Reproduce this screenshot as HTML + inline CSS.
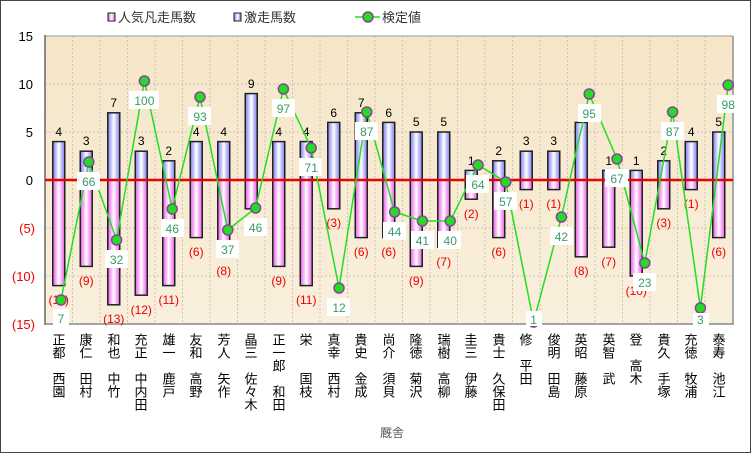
<!DOCTYPE html>
<html><head><meta charset="utf-8"><style>
html,body{margin:0;padding:0;background:#fff}
svg{display:block;font-family:"Liberation Sans","Noto Sans CJK JP",sans-serif}
.ax{font-size:13px;text-anchor:end}
.pl{font-size:12px;text-anchor:middle;fill:#000}
.nl{font-size:12px;text-anchor:middle;fill:#e00}
.vl{font-size:12px;text-anchor:middle;fill:#3a9a6a}
.nm{font-size:13px;writing-mode:vertical-rl;fill:#000;font-family:"Noto Sans CJK JP",sans-serif}
</style></head><body>
<svg width="751" height="453" viewBox="0 0 751 453">
<defs>
<linearGradient id="bg" x1="0" y1="0" x2="0" y2="1"><stop offset="0" stop-color="#f6e6c8"/><stop offset="1" stop-color="#f8efdc"/></linearGradient>
<linearGradient id="pb" x1="0" y1="0" x2="1" y2="0"><stop offset="0" stop-color="#7a7af0"/><stop offset="0.5" stop-color="#ffffff"/><stop offset="1" stop-color="#7a7af0"/></linearGradient>
<linearGradient id="nb" x1="0" y1="0" x2="1" y2="0"><stop offset="0" stop-color="#e858e8"/><stop offset="0.5" stop-color="#ffffff"/><stop offset="1" stop-color="#e858e8"/></linearGradient>
</defs>
<rect x="0.5" y="0.5" width="750" height="452" fill="#fff" stroke="#444"/>
<!-- plot -->
<rect x="45" y="36" width="688" height="288" fill="url(#bg)"/>
<g stroke="#cfc4b0" stroke-width="1" stroke-dasharray="2,2">
<line x1="45" y1="84" x2="733" y2="84"/><line x1="45" y1="132" x2="733" y2="132"/><line x1="45" y1="228" x2="733" y2="228"/><line x1="45" y1="276" x2="733" y2="276"/>
<line x1="72.5" y1="36" x2="72.5" y2="324"/><line x1="100" y1="36" x2="100" y2="324"/><line x1="127.5" y1="36" x2="127.5" y2="324"/><line x1="155" y1="36" x2="155" y2="324"/><line x1="182.5" y1="36" x2="182.5" y2="324"/><line x1="210" y1="36" x2="210" y2="324"/><line x1="237.5" y1="36" x2="237.5" y2="324"/><line x1="265" y1="36" x2="265" y2="324"/><line x1="292.5" y1="36" x2="292.5" y2="324"/><line x1="320" y1="36" x2="320" y2="324"/><line x1="347.5" y1="36" x2="347.5" y2="324"/><line x1="375" y1="36" x2="375" y2="324"/><line x1="402.5" y1="36" x2="402.5" y2="324"/><line x1="430" y1="36" x2="430" y2="324"/><line x1="457.5" y1="36" x2="457.5" y2="324"/><line x1="485" y1="36" x2="485" y2="324"/><line x1="512.5" y1="36" x2="512.5" y2="324"/><line x1="540" y1="36" x2="540" y2="324"/><line x1="567.5" y1="36" x2="567.5" y2="324"/><line x1="595" y1="36" x2="595" y2="324"/><line x1="622.5" y1="36" x2="622.5" y2="324"/><line x1="650" y1="36" x2="650" y2="324"/><line x1="677.5" y1="36" x2="677.5" y2="324"/><line x1="705" y1="36" x2="705" y2="324"/>
</g>
<line x1="45" y1="36" x2="733" y2="36" stroke="#999"/>
<line x1="733" y1="36" x2="733" y2="324" stroke="#aaa" stroke-width="2"/>
<line x1="45" y1="35" x2="45" y2="325" stroke="#666" stroke-width="1.5"/>
<line x1="45" y1="324" x2="734" y2="324" stroke="#888" stroke-width="1.5"/>
<!-- y axis -->
<text class="ax" x="33" y="41">15</text><text class="ax" x="33" y="89">10</text><text class="ax" x="33" y="137">5</text><text class="ax" x="33" y="185">0</text>
<text class="ax" x="35" y="233" fill="#e00">(5)</text><text class="ax" x="35" y="281" fill="#e00">(10)</text><text class="ax" x="35" y="329" fill="#e00">(15)</text>
<!-- positive bars -->
<g fill="url(#pb)" stroke="#222" stroke-width="1.5">
<rect x="52.75" y="141.6" width="12" height="38.4"/><rect x="80.25" y="151.2" width="12" height="28.8"/><rect x="107.75" y="112.8" width="12" height="67.2"/><rect x="135.25" y="151.2" width="12" height="28.8"/><rect x="162.75" y="160.8" width="12" height="19.2"/><rect x="190.25" y="141.6" width="12" height="38.4"/><rect x="217.75" y="141.6" width="12" height="38.4"/><rect x="245.25" y="93.6" width="12" height="86.4"/><rect x="272.75" y="141.6" width="12" height="38.4"/><rect x="300.25" y="141.6" width="12" height="38.4"/><rect x="327.75" y="122.4" width="12" height="57.6"/><rect x="355.25" y="112.8" width="12" height="67.2"/><rect x="382.75" y="122.4" width="12" height="57.6"/><rect x="410.25" y="132" width="12" height="48"/><rect x="437.75" y="132" width="12" height="48"/><rect x="465.25" y="170.4" width="12" height="9.6"/><rect x="492.75" y="160.8" width="12" height="19.2"/><rect x="520.25" y="151.2" width="12" height="28.8"/><rect x="547.75" y="151.2" width="12" height="28.8"/><rect x="575.25" y="122.4" width="12" height="57.6"/><rect x="602.75" y="170.4" width="12" height="9.6"/><rect x="630.25" y="170.4" width="12" height="9.6"/><rect x="657.75" y="160.8" width="12" height="19.2"/><rect x="685.25" y="141.6" width="12" height="38.4"/><rect x="712.75" y="132" width="12" height="48"/>
</g>
<!-- negative bars -->
<g fill="url(#nb)" stroke="#222" stroke-width="1.5">
<rect x="52.75" y="180" width="12" height="105.6"/><rect x="80.25" y="180" width="12" height="86.4"/><rect x="107.75" y="180" width="12" height="124.8"/><rect x="135.25" y="180" width="12" height="115.2"/><rect x="162.75" y="180" width="12" height="105.6"/><rect x="190.25" y="180" width="12" height="57.6"/><rect x="217.75" y="180" width="12" height="76.8"/><rect x="245.25" y="180" width="12" height="28.8"/><rect x="272.75" y="180" width="12" height="86.4"/><rect x="300.25" y="180" width="12" height="105.6"/><rect x="327.75" y="180" width="12" height="28.8"/><rect x="355.25" y="180" width="12" height="57.6"/><rect x="382.75" y="180" width="12" height="57.6"/><rect x="410.25" y="180" width="12" height="86.4"/><rect x="437.75" y="180" width="12" height="67.2"/><rect x="465.25" y="180" width="12" height="19.2"/><rect x="492.75" y="180" width="12" height="57.6"/><rect x="520.25" y="180" width="12" height="9.6"/><rect x="547.75" y="180" width="12" height="9.6"/><rect x="575.25" y="180" width="12" height="76.8"/><rect x="602.75" y="180" width="12" height="67.2"/><rect x="630.25" y="180" width="12" height="96"/><rect x="657.75" y="180" width="12" height="28.8"/><rect x="685.25" y="180" width="12" height="9.6"/><rect x="712.75" y="180" width="12" height="57.6"/>
</g>
<line x1="45" y1="180" x2="733" y2="180" stroke="#ee0000" stroke-width="2.5"/>
<!-- positive labels -->
<g class="pl">
<text x="58.75" y="136">4</text><text x="86.25" y="145">3</text><text x="113.75" y="107">7</text><text x="141.25" y="145">3</text><text x="168.75" y="155">2</text><text x="196.25" y="136">4</text><text x="223.75" y="136">4</text><text x="251.25" y="88">9</text><text x="278.75" y="136">4</text><text x="306.25" y="136">4</text><text x="333.75" y="117">6</text><text x="361.25" y="107">7</text><text x="388.75" y="117">6</text><text x="416.25" y="126">5</text><text x="443.75" y="126">5</text><text x="471.25" y="165">1</text><text x="498.75" y="155">2</text><text x="526.25" y="145">3</text><text x="553.75" y="145">3</text><text x="581.25" y="117">6</text><text x="608.75" y="165">1</text><text x="636.25" y="165">1</text><text x="663.75" y="155">2</text><text x="691.25" y="136">4</text><text x="718.75" y="126">5</text>
</g>
<!-- negative labels -->
<g class="nl">
<text x="58.75" y="304">(11)</text><text x="86.25" y="285">(9)</text><text x="113.75" y="323">(13)</text><text x="141.25" y="314">(12)</text><text x="168.75" y="304">(11)</text><text x="196.25" y="256">(6)</text><text x="223.75" y="275">(8)</text><text x="251.25" y="227">(3)</text><text x="278.75" y="285">(9)</text><text x="306.25" y="304">(11)</text><text x="333.75" y="227">(3)</text><text x="361.25" y="256">(6)</text><text x="388.75" y="256">(6)</text><text x="416.25" y="285">(9)</text><text x="443.75" y="266">(7)</text><text x="471.25" y="218">(2)</text><text x="498.75" y="256">(6)</text><text x="526.25" y="208">(1)</text><text x="553.75" y="208">(1)</text><text x="581.25" y="275">(8)</text><text x="608.75" y="266">(7)</text><text x="636.25" y="295">(10)</text><text x="663.75" y="227">(3)</text><text x="691.25" y="208">(1)</text><text x="718.75" y="256">(6)</text>
</g>
<!-- line -->
<polyline fill="none" stroke="#22dd22" stroke-width="1.5" points="61,300 88.8,162 116.6,240 144.4,81 172.2,209 200,97 227.8,230 255.6,208 283.4,89 311.2,148 339,288 366.8,112 394.6,212 422.4,221 450.2,221 478,165 505.8,182 533.6,322 561.4,217 589.2,94 617,159 644.8,263 672.6,112 700.4,308 728.2,85"/>
<g fill="#22dd22" stroke="#884499" stroke-width="1.5">
<circle cx="61" cy="300" r="5"/><circle cx="88.8" cy="162" r="5"/><circle cx="116.6" cy="240" r="5"/><circle cx="144.4" cy="81" r="5"/><circle cx="172.2" cy="209" r="5"/><circle cx="200" cy="97" r="5"/><circle cx="227.8" cy="230" r="5"/><circle cx="255.6" cy="208" r="5"/><circle cx="283.4" cy="89" r="5"/><circle cx="311.2" cy="148" r="5"/><circle cx="339" cy="288" r="5"/><circle cx="366.8" cy="112" r="5"/><circle cx="394.6" cy="212" r="5"/><circle cx="422.4" cy="221" r="5"/><circle cx="450.2" cy="221" r="5"/><circle cx="478" cy="165" r="5"/><circle cx="505.8" cy="182" r="5"/><circle cx="533.6" cy="322" r="5"/><circle cx="561.4" cy="217" r="5"/><circle cx="589.2" cy="94" r="5"/><circle cx="617" cy="159" r="5"/><circle cx="644.8" cy="263" r="5"/><circle cx="672.6" cy="112" r="5"/><circle cx="700.4" cy="308" r="5"/><circle cx="728.2" cy="85" r="5"/>
</g>
<!-- value label boxes -->
<g fill="#fff">
<rect x="53" y="309" width="16" height="16"/><rect x="77" y="172" width="23" height="18"/><rect x="105" y="250" width="23" height="18"/><rect x="129" y="91" width="30" height="18"/><rect x="161" y="219" width="23" height="18"/><rect x="188" y="107" width="23" height="18"/><rect x="216" y="240" width="23" height="18"/><rect x="244" y="218" width="23" height="18"/><rect x="272" y="99" width="23" height="18"/><rect x="299" y="158" width="23" height="18"/><rect x="327" y="298" width="23" height="18"/><rect x="355" y="122" width="23" height="18"/><rect x="383" y="222" width="23" height="18"/><rect x="411" y="231" width="23" height="18"/><rect x="438" y="231" width="23" height="18"/><rect x="466" y="175" width="23" height="18"/><rect x="494" y="192" width="23" height="18"/><rect x="526" y="311" width="16" height="15"/><rect x="550" y="227" width="23" height="18"/><rect x="578" y="104" width="23" height="18"/><rect x="605" y="169" width="23" height="18"/><rect x="633" y="273" width="23" height="18"/><rect x="661" y="122" width="23" height="18"/><rect x="693" y="313" width="16" height="13"/><rect x="717" y="95" width="23" height="18"/>
</g>
<g class="vl">
<text x="61" y="323">7</text><text x="88.8" y="186">66</text><text x="116.6" y="264">32</text><text x="144.4" y="105">100</text><text x="172.2" y="233">46</text><text x="200" y="121">93</text><text x="227.8" y="254">37</text><text x="255.6" y="232">46</text><text x="283.4" y="113">97</text><text x="311.2" y="172">71</text><text x="339" y="312">12</text><text x="366.8" y="136">87</text><text x="394.6" y="236">44</text><text x="422.4" y="245">41</text><text x="450.2" y="245">40</text><text x="478" y="189">64</text><text x="505.8" y="206">57</text><text x="533.6" y="324">1</text><text x="561.4" y="241">42</text><text x="589.2" y="118">95</text><text x="617" y="183">67</text><text x="644.8" y="287">23</text><text x="672.6" y="136">87</text><text x="700.4" y="324">3</text><text x="728.2" y="109">98</text>
</g>
<!-- names -->
<g class="nm">
<text x="59" y="333">正都　西園</text><text x="86" y="333">康仁　田村</text><text x="114" y="333">和也　中竹</text><text x="141" y="333">充正　中内田</text><text x="169" y="333">雄一　鹿戸</text><text x="196" y="333">友和　高野</text><text x="224" y="333">芳人　矢作</text><text x="251" y="333">晶三　佐々木</text><text x="279" y="333">正一郎　和田</text><text x="306" y="333">栄　　国枝</text><text x="334" y="333">真幸　西村</text><text x="361" y="333">貴史　金成</text><text x="389" y="333">尚介　須貝</text><text x="416" y="333">隆徳　菊沢</text><text x="444" y="333">瑞樹　高柳</text><text x="471" y="333">圭三　伊藤</text><text x="499" y="333">貴士　久保田</text><text x="526" y="333">修　平田</text><text x="554" y="333">俊明　田島</text><text x="581" y="333">英昭　藤原</text><text x="609" y="333">英智　武</text><text x="636" y="333">登　高木</text><text x="664" y="333">貴久　手塚</text><text x="691" y="333">充徳　牧浦</text><text x="719" y="333">泰寿　池江</text>
</g>
<text x="380" y="437" font-size="12" fill="#555" font-family="Noto Sans CJK JP,sans-serif">厩舎</text>
<!-- legend -->
<rect x="108" y="13" width="7" height="8" fill="url(#nb)" stroke="#222"/>
<text x="118" y="22" font-size="13" fill="#333">人気凡走馬数</text>
<rect x="234" y="13" width="7" height="8" fill="url(#pb)" stroke="#222"/>
<text x="244" y="22" font-size="13" fill="#333">激走馬数</text>
<line x1="355" y1="17" x2="380" y2="17" stroke="#22dd22" stroke-width="1.5"/>
<circle cx="368" cy="17" r="5" fill="#22dd22" stroke="#884499" stroke-width="1.5"/>
<text x="382" y="22" font-size="13" fill="#333">検定値</text>
</svg>
</body></html>
